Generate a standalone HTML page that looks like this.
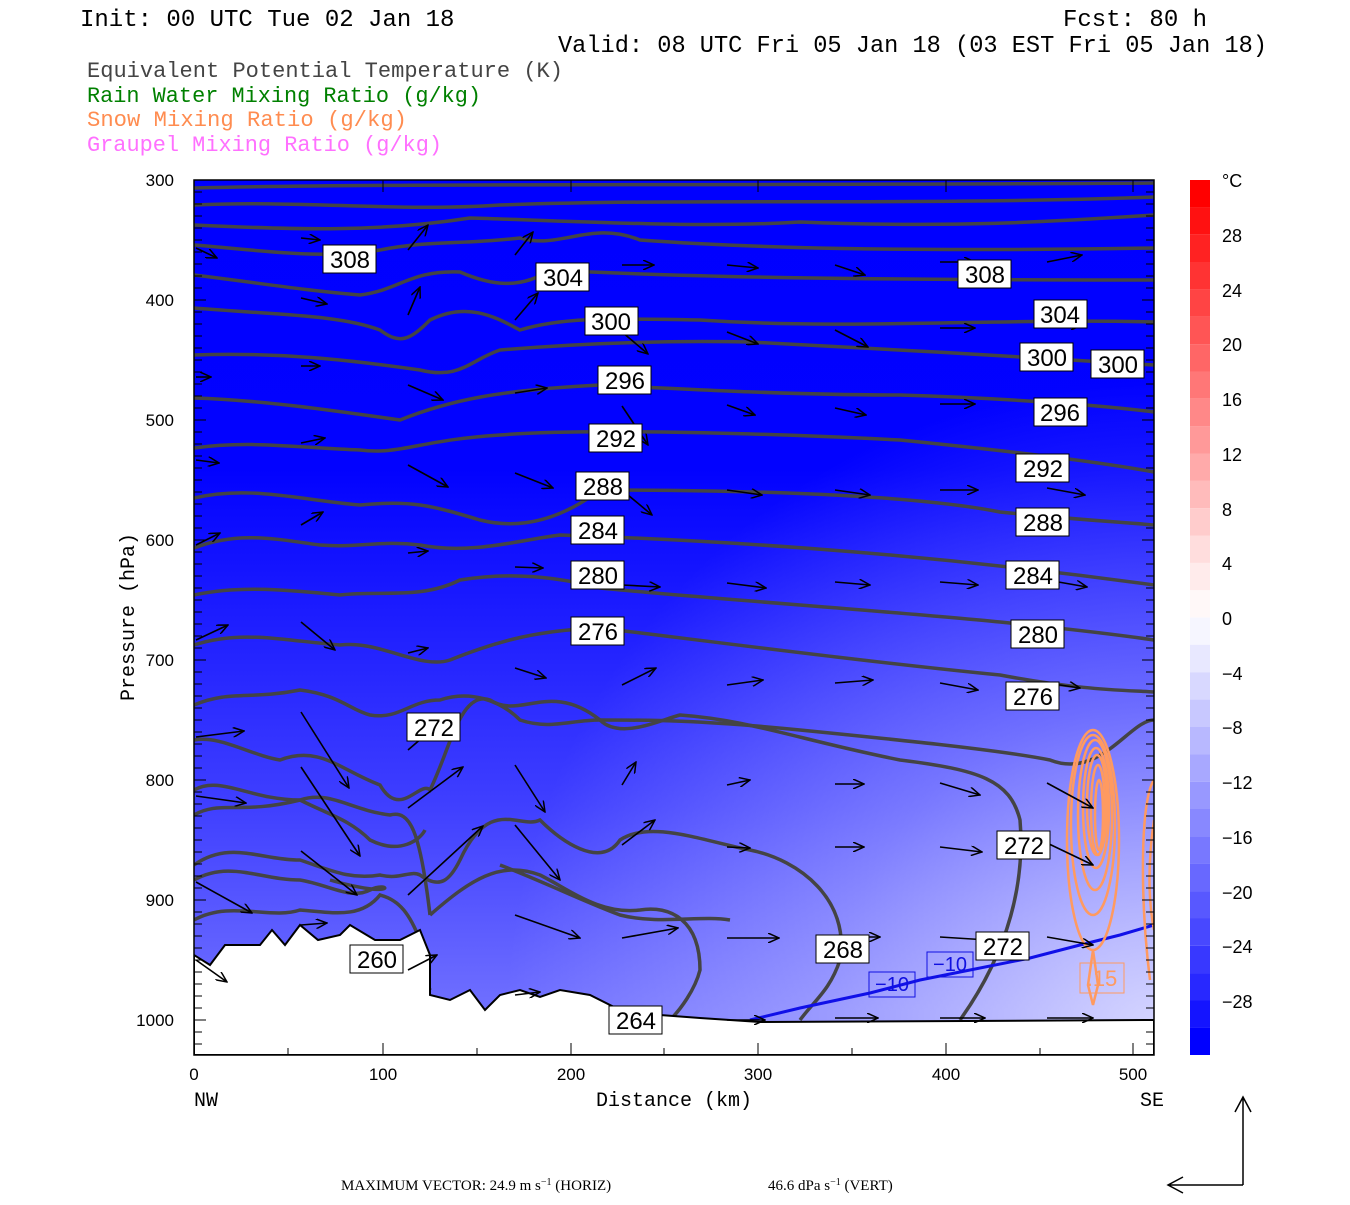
<!DOCTYPE html>
<html><head><meta charset="utf-8"><style>
body{margin:0;background:#fff;}
svg text{font-family:"Liberation Sans",sans-serif;}
svg .t, svg .t text{font-family:"Liberation Mono",monospace;font-size:24px;}
svg .lg, svg .lg text{font-family:"Liberation Mono",monospace;font-size:22px;}
svg .sf, svg .sf text{font-family:"Liberation Serif",serif;}
</style></head><body>
<svg width="1350" height="1200" viewBox="0 0 1350 1200" xmlns="http://www.w3.org/2000/svg">
<defs>
<linearGradient id="bg" x1="0" y1="180" x2="0" y2="1055" gradientUnits="userSpaceOnUse">
<stop offset="0" stop-color="#0000ff"/><stop offset="0.33" stop-color="#0202ff"/>
<stop offset="0.52" stop-color="#2020ff"/><stop offset="0.72" stop-color="#4040ff"/>
<stop offset="0.95" stop-color="#7070ff"/></linearGradient>
<radialGradient id="rg" cx="1154" cy="1030" r="650" gradientUnits="userSpaceOnUse">
<stop offset="0" stop-color="#ffffff" stop-opacity="0.7"/><stop offset="0.5" stop-color="#ffffff" stop-opacity="0.3"/><stop offset="1" stop-color="#ffffff" stop-opacity="0"/></radialGradient>
<marker id="ah" markerWidth="12" markerHeight="10" refX="11" refY="5" orient="auto" markerUnits="userSpaceOnUse"><path d="M0,0 L11,5 L0,10" fill="none" stroke="#000" stroke-width="1.5"/></marker>
<clipPath id="cp"><rect x="194" y="180" width="960" height="875"/></clipPath>
</defs>
<g class="t" fill="#000">
<text x="80" y="26">Init: 00 UTC Tue 02 Jan 18</text>
<text x="1063" y="26">Fcst:  80 h</text>
<text x="558" y="52" textLength="709" lengthAdjust="spacingAndGlyphs">Valid: 08 UTC Fri 05 Jan 18 (03 EST Fri 05 Jan 18)</text>
</g>
<g class="lg">
<text x="87" y="77" fill="#444" textLength="476" lengthAdjust="spacingAndGlyphs">Equivalent Potential Temperature (K)</text>
<text x="87" y="102" fill="#008000" textLength="394" lengthAdjust="spacingAndGlyphs">Rain Water Mixing Ratio (g/kg)</text>
<text x="87" y="126" fill="#ff8c50" textLength="320" lengthAdjust="spacingAndGlyphs">Snow Mixing Ratio (g/kg)</text>
<text x="87" y="151" fill="#ff70ff" textLength="355" lengthAdjust="spacingAndGlyphs">Graupel Mixing Ratio (g/kg)</text>
</g>
<g clip-path="url(#cp)">
<rect x="194" y="180" width="960" height="875" fill="url(#bg)"/>
<rect x="194" y="380" width="960" height="675" fill="url(#rg)"/>
<g fill="none" stroke="#444" stroke-width="3.5">
<path d="M194,188 C400,183 700,186 1154,183"/>
<path d="M194,205 C300,200 400,212 500,205 C700,198 900,206 1154,197"/>
<path d="M194,225 C300,230 380,232 470,218 C600,222 700,228 800,222 C950,228 1050,222 1154,215"/>
<path d="M194,245 C260,250 320,260 380,250 C430,240 460,245 520,238 C560,250 590,220 640,240 C750,248 900,252 1154,248"/>
<path d="M194,275 C260,283 300,290 360,295 C400,290 410,270 460,272 C490,285 520,290 550,270 C700,278 900,280 1154,280"/>
<path d="M194,308 C280,315 340,315 380,330 C400,345 410,340 430,320 C470,300 500,320 520,330 C560,318 600,318 700,320 C850,330 1000,318 1154,322"/>
<path d="M194,355 C280,352 350,360 420,370 C460,380 470,360 500,350 C560,345 650,340 750,342 C900,350 1000,355 1154,365"/>
<path d="M194,398 C260,400 330,410 400,420 C450,400 500,390 600,385 C700,390 800,395 900,395 C1000,398 1100,405 1154,412"/>
<path d="M194,448 C250,440 300,448 360,450 C400,455 420,440 500,435 C560,430 700,430 900,440 C1000,450 1100,462 1154,472"/>
<path d="M194,498 C250,485 300,500 360,505 C410,500 430,505 480,520 C520,530 560,520 600,490 C700,490 900,492 1000,512 C1080,520 1120,522 1154,525"/>
<path d="M194,548 C240,530 280,540 320,545 C360,548 380,540 420,545 C470,555 520,540 560,535 C700,540 900,550 1154,585"/>
<path d="M194,595 C240,585 290,590 340,595 C380,590 420,600 460,580 C520,570 570,580 600,588 C700,598 900,612 1000,622 C1080,630 1120,635 1154,640"/>
<path d="M194,645 C240,630 280,640 340,645 C380,640 420,670 450,660 C500,640 540,630 600,628 C700,640 850,660 1000,675 C1080,690 1120,690 1154,692"/>
<path d="M194,705 C230,690 250,700 300,690 C340,695 350,710 370,715 C400,720 410,700 440,700 C470,690 500,700 520,720 C550,730 570,720 600,720 C650,720 700,720 800,730 C900,740 1000,750 1050,760 C1100,780 1130,720 1154,720"/>
<path d="M194,740 C220,735 250,755 280,760 C320,745 340,770 380,785 C400,820 420,780 430,790 C450,750 460,690 490,700 C520,720 550,680 600,720 C620,740 660,720 680,715 C750,720 800,740 900,760 C980,770 1010,780 1020,820 C1025,880 1010,950 960,1020"/>
<path d="M194,790 C220,775 250,800 300,800 C330,790 350,810 390,815 C410,810 420,830 430,915"/>
<path d="M194,815 C220,800 240,815 300,800 M300,800 C330,815 350,820 370,840 C400,855 420,840 425,830"/>
<path d="M194,865 C230,840 260,860 300,860 C330,870 350,880 380,875 C400,880 410,870 420,875 C440,890 450,880 460,860 C490,795 520,830 540,820 C560,840 600,870 620,840 C650,820 700,840 750,850 C800,860 850,900 840,960 C830,990 815,1000 800,1020"/>
<path d="M194,880 C230,860 260,880 300,880 C330,885 350,900 370,890 C390,880 400,900 330,880"/>
<path d="M194,920 C230,900 270,920 300,910 C330,912 360,920 380,895 C400,900 410,915 420,940"/>
<path d="M340,935 C400,940 420,960 430,990"/>
<path d="M430,915 C470,880 500,860 540,875 C570,890 600,915 640,910 C670,905 700,920 700,970 C695,990 680,1010 670,1020"/>
<path d="M500,865 C540,880 580,900 620,915 C660,925 700,915 730,920"/>
</g>
<path d="M750,1020 L800,1008 L870,993 L920,980 L960,972 L1030,958 L1080,945 L1120,935 L1154,925" fill="none" stroke="#1010e8" stroke-width="3"/>
<g fill="none" stroke="#ff9a60" stroke-width="2.5">
<ellipse cx="1093" cy="840" rx="26" ry="110"/>
<ellipse cx="1093" cy="825" rx="22" ry="90"/>
<ellipse cx="1095" cy="815" rx="17" ry="75"/>
<ellipse cx="1096" cy="808" rx="13" ry="60"/>
<ellipse cx="1097" cy="805" rx="10" ry="50"/>
<ellipse cx="1098" cy="810" rx="7" ry="45"/>
<ellipse cx="1099" cy="815" rx="4" ry="35"/>
<path d="M1093,950 L1088,985 L1093,1005 L1098,985 Z"/>
<path d="M1154,780 C1140,800 1140,900 1150,980"/>
<path d="M1154,820 C1148,860 1148,900 1154,930"/>
</g>
<path d="M194,1055 L194,955 L210,965 L225,945 L260,945 L272,930 L285,945 L300,925 L318,940 L340,935 L350,925 L375,940 L400,940 L420,930 L430,955 L430,995 L450,1000 L470,990 L485,1010 L500,995 L520,990 L540,997 L560,990 L590,995 L620,1010 L660,1015 L700,1018 L760,1022 L1154,1020 L1154,1055 Z" fill="#fff" stroke="#000" stroke-width="2"/>
<g stroke="#000" stroke-width="1.6" fill="none" marker-end="url(#ah)">
<path d="M196,248 L217,258"/><path d="M301,238 L320,240"/><path d="M408,250 L428,225"/><path d="M515,255 L533,232"/><path d="M622,265 L654,265"/><path d="M727,265 L758,268"/><path d="M835,265 L865,275"/><path d="M940,262 L975,262"/><path d="M1047,262 L1082,255"/>
<path d="M301,298 L327,304"/><path d="M408,315 L420,287"/><path d="M515,320 L538,293"/><path d="M622,332 L648,354"/><path d="M727,332 L758,344"/><path d="M835,330 L868,347"/><path d="M940,328 L975,328"/><path d="M1047,325 L1082,325"/>
<path d="M196,377 L211,377"/><path d="M301,366 L320,366"/><path d="M408,385 L443,400"/><path d="M515,393 L547,388"/><path d="M622,406 L648,445"/><path d="M727,405 L755,415"/><path d="M835,408 L866,415"/><path d="M940,404 L975,404"/><path d="M1047,404 L1082,404"/>
<path d="M196,460 L219,463"/><path d="M301,443 L325,438"/><path d="M408,465 L448,487"/><path d="M515,473 L553,488"/><path d="M622,490 L652,515"/><path d="M727,490 L762,495"/><path d="M835,490 L870,495"/><path d="M940,490 L978,490"/><path d="M1047,488 L1085,495"/>
<path d="M196,545 L220,533"/><path d="M301,525 L323,512"/><path d="M408,553 L428,551"/><path d="M515,567 L543,568"/><path d="M622,585 L660,587"/><path d="M727,583 L766,588"/><path d="M835,582 L870,585"/><path d="M940,582 L978,585"/><path d="M1047,580 L1087,587"/>
<path d="M196,640 L228,625"/><path d="M301,622 L335,650"/><path d="M408,653 L428,648"/><path d="M515,668 L546,678"/><path d="M622,685 L656,668"/><path d="M727,685 L763,680"/><path d="M835,683 L873,680"/><path d="M940,683 L978,690"/><path d="M1047,683 L1080,688"/>
<path d="M196,737 L244,731"/><path d="M301,712 L349,788"/><path d="M408,750 L437,725"/><path d="M515,765 L545,812"/><path d="M622,785 L636,762"/><path d="M727,785 L750,780"/><path d="M835,784 L864,784"/><path d="M940,783 L980,795"/><path d="M1047,783 L1093,808"/>
<path d="M196,796 L246,803"/><path d="M301,767 L360,856"/><path d="M408,808 L463,767"/><path d="M515,825 L560,880"/><path d="M622,845 L655,820"/><path d="M727,847 L750,848"/><path d="M835,847 L864,847"/><path d="M940,847 L982,852"/><path d="M1047,843 L1093,865"/>
<path d="M196,882 L252,913"/><path d="M301,851 L357,895"/><path d="M408,895 L483,826"/><path d="M515,915 L580,938"/><path d="M622,938 L678,928"/><path d="M727,938 L779,938"/><path d="M835,937 L880,937"/><path d="M940,937 L988,940"/><path d="M1047,937 L1093,945"/>
<path d="M196,960 L227,982"/><path d="M301,925 L327,923"/><path d="M408,970 L437,955"/><path d="M515,995 L540,992"/><path d="M727,1020 L765,1020"/><path d="M835,1018 L878,1018"/><path d="M940,1018 L985,1018"/><path d="M1047,1018 L1093,1018"/>
</g>
<g font-size="24" text-anchor="middle" fill="#000">
<g fill="#fff" stroke="#000" stroke-width="1">
<rect x="323" y="245" width="53" height="28"/><rect x="536" y="263" width="53" height="28"/><rect x="958" y="260" width="53" height="28"/>
<rect x="1034" y="300" width="53" height="28"/><rect x="585" y="307" width="53" height="28"/><rect x="1020" y="343" width="53" height="28"/><rect x="1091" y="350" width="53" height="28"/>
<rect x="598" y="366" width="53" height="28"/><rect x="1034" y="398" width="53" height="28"/><rect x="589" y="424" width="53" height="28"/><rect x="1016" y="454" width="53" height="28"/>
<rect x="576" y="472" width="53" height="28"/><rect x="1016" y="508" width="53" height="28"/><rect x="571" y="516" width="53" height="28"/><rect x="1006" y="561" width="53" height="28"/>
<rect x="571" y="561" width="53" height="28"/><rect x="1011" y="620" width="53" height="28"/><rect x="571" y="617" width="53" height="28"/><rect x="1006" y="682" width="53" height="28"/>
<rect x="407" y="713" width="53" height="28"/><rect x="997" y="831" width="53" height="28"/><rect x="976" y="932" width="53" height="28"/><rect x="816" y="935" width="53" height="28"/>
<rect x="350" y="945" width="53" height="28"/><rect x="609" y="1006" width="53" height="28"/>
</g>
<text x="350" y="268">308</text><text x="563" y="286">304</text><text x="985" y="283">308</text>
<text x="1060" y="323">304</text><text x="611" y="330">300</text><text x="1047" y="366">300</text><text x="1118" y="373">300</text>
<text x="625" y="389">296</text><text x="1060" y="421">296</text><text x="616" y="447">292</text><text x="1043" y="477">292</text>
<text x="603" y="495">288</text><text x="1043" y="531">288</text><text x="598" y="539">284</text><text x="1033" y="584">284</text>
<text x="598" y="584">280</text><text x="1038" y="643">280</text><text x="598" y="640">276</text><text x="1033" y="705">276</text>
<text x="434" y="736">272</text><text x="1024" y="854">272</text><text x="1003" y="955">272</text><text x="843" y="958">268</text>
<text x="377" y="968">260</text><text x="636" y="1029">264</text>
</g>
<g font-size="20" fill="#1010e0" text-anchor="middle">
<rect x="869" y="972" width="46" height="25" fill="none" stroke="#1010e0"/><text x="892" y="991">−10</text>
<rect x="927" y="952" width="46" height="25" fill="none" stroke="#1010e0"/><text x="950" y="971">−10</text>
</g>
<rect x="1080" y="963" width="44" height="30" fill="none" stroke="#ff9a60"/><text x="1102" y="986" font-size="22" fill="#ff9a60" text-anchor="middle">.15</text>
</g>
<rect x="194" y="180" width="960" height="875" fill="none" stroke="#000" stroke-width="1.5"/>
<g stroke="#000" stroke-width="1">
<path d="M194,192h8M194,204h8M194,216h8M194,228h8M194,240h8M194,252h8M194,264h8M194,276h8M194,288h8M194,300h12M194,312h8M194,324h8M194,336h8M194,348h8M194,360h8M194,372h8M194,384h8M194,396h8M194,408h8M194,420h12M194,432h8M194,444h8M194,456h8M194,468h8M194,480h8M194,492h8M194,504h8M194,516h8M194,528h8M194,540h12M194,552h8M194,564h8M194,576h8M194,588h8M194,600h8M194,612h8M194,624h8M194,636h8M194,648h8M194,660h12M194,672h8M194,684h8M194,696h8M194,708h8M194,720h8M194,732h8M194,744h8M194,756h8M194,768h8M194,780h12M194,792h8M194,804h8M194,816h8M194,828h8M194,840h8M194,852h8M194,864h8M194,876h8M194,888h8M194,900h12M194,912h8M194,924h8M194,936h8M194,948h8M194,960h8M194,972h8M194,984h8M194,996h8M194,1008h8M194,1020h12M194,1032h8M194,1044h8"/>
<path d="M1154,192h-8M1154,204h-8M1154,216h-8M1154,228h-8M1154,240h-8M1154,252h-8M1154,264h-8M1154,276h-8M1154,288h-8M1154,300h-12M1154,312h-8M1154,324h-8M1154,336h-8M1154,348h-8M1154,360h-8M1154,372h-8M1154,384h-8M1154,396h-8M1154,408h-8M1154,420h-12M1154,432h-8M1154,444h-8M1154,456h-8M1154,468h-8M1154,480h-8M1154,492h-8M1154,504h-8M1154,516h-8M1154,528h-8M1154,540h-12M1154,552h-8M1154,564h-8M1154,576h-8M1154,588h-8M1154,600h-8M1154,612h-8M1154,624h-8M1154,636h-8M1154,648h-8M1154,660h-12M1154,672h-8M1154,684h-8M1154,696h-8M1154,708h-8M1154,720h-8M1154,732h-8M1154,744h-8M1154,756h-8M1154,768h-8M1154,780h-12M1154,792h-8M1154,804h-8M1154,816h-8M1154,828h-8M1154,840h-8M1154,852h-8M1154,864h-8M1154,876h-8M1154,888h-8M1154,900h-12M1154,912h-8M1154,924h-8M1154,936h-8M1154,948h-8M1154,960h-8M1154,972h-8M1154,984h-8M1154,996h-8M1154,1008h-8M1154,1020h-12M1154,1032h-8M1154,1044h-8"/>
<path d="M383,1055v-12M571,1055v-12M758,1055v-12M946,1055v-12M1133,1055v-12M288,1055v-7M477,1055v-7M664,1055v-7M852,1055v-7M1040,1055v-7"/>
<path d="M383,180v12M571,180v12M758,180v12M946,180v12M1133,180v12"/>
</g>
<g font-size="17" text-anchor="end" fill="#000">
<text x="174" y="186">300</text><text x="174" y="306">400</text><text x="174" y="426">500</text><text x="174" y="546">600</text>
<text x="174" y="666">700</text><text x="174" y="786">800</text><text x="174" y="906">900</text><text x="174" y="1026">1000</text>
</g>
<g font-size="17" text-anchor="middle" fill="#000">
<text x="194" y="1080">0</text><text x="383" y="1080">100</text><text x="571" y="1080">200</text><text x="758" y="1080">300</text><text x="946" y="1080">400</text><text x="1133" y="1080">500</text>
</g>
<g class="t" style="font-size:20px">
<text x="194" y="1106" style="font-size:20px">NW</text><text x="1140" y="1106" style="font-size:20px">SE</text>
<text x="674" y="1106" style="font-size:20px" text-anchor="middle">Distance (km)</text>
<text transform="translate(134,617) rotate(-90)" style="font-size:20px" text-anchor="middle">Pressure (hPa)</text>
</g>
<g>
<rect x="1190" y="180.0" width="20" height="27.4" fill="rgb(255,0,0)"/><rect x="1190" y="207.3" width="20" height="27.4" fill="rgb(255,17,17)"/><rect x="1190" y="234.7" width="20" height="27.4" fill="rgb(255,34,34)"/><rect x="1190" y="262.0" width="20" height="27.4" fill="rgb(255,51,51)"/><rect x="1190" y="289.4" width="20" height="27.4" fill="rgb(255,68,68)"/><rect x="1190" y="316.7" width="20" height="27.4" fill="rgb(255,85,85)"/><rect x="1190" y="344.1" width="20" height="27.4" fill="rgb(255,102,102)"/><rect x="1190" y="371.4" width="20" height="27.4" fill="rgb(255,119,119)"/><rect x="1190" y="398.8" width="20" height="27.4" fill="rgb(255,136,136)"/><rect x="1190" y="426.1" width="20" height="27.4" fill="rgb(255,153,153)"/><rect x="1190" y="453.5" width="20" height="27.4" fill="rgb(255,170,170)"/><rect x="1190" y="480.8" width="20" height="27.4" fill="rgb(255,187,187)"/><rect x="1190" y="508.2" width="20" height="27.4" fill="rgb(255,204,204)"/><rect x="1190" y="535.5" width="20" height="27.4" fill="rgb(255,221,221)"/><rect x="1190" y="562.9" width="20" height="27.4" fill="rgb(255,235,235)"/><rect x="1190" y="590.2" width="20" height="27.4" fill="rgb(255,248,248)"/>
<rect x="1190" y="617.6" width="20" height="27.4" fill="rgb(246,246,255)"/><rect x="1190" y="644.9" width="20" height="27.4" fill="rgb(232,232,255)"/><rect x="1190" y="672.3" width="20" height="27.4" fill="rgb(216,216,255)"/><rect x="1190" y="699.6" width="20" height="27.4" fill="rgb(200,200,255)"/><rect x="1190" y="727.0" width="20" height="27.4" fill="rgb(184,184,255)"/><rect x="1190" y="754.3" width="20" height="27.4" fill="rgb(168,168,255)"/><rect x="1190" y="781.7" width="20" height="27.4" fill="rgb(152,152,255)"/><rect x="1190" y="809.0" width="20" height="27.4" fill="rgb(136,136,255)"/><rect x="1190" y="836.4" width="20" height="27.4" fill="rgb(120,120,255)"/><rect x="1190" y="863.7" width="20" height="27.4" fill="rgb(104,104,255)"/><rect x="1190" y="891.1" width="20" height="27.4" fill="rgb(88,88,255)"/><rect x="1190" y="918.4" width="20" height="27.4" fill="rgb(72,72,255)"/><rect x="1190" y="945.8" width="20" height="27.4" fill="rgb(56,56,255)"/><rect x="1190" y="973.1" width="20" height="27.4" fill="rgb(40,40,255)"/><rect x="1190" y="1000.5" width="20" height="27.4" fill="rgb(20,20,255)"/><rect x="1190" y="1027.8" width="20" height="27.2" fill="rgb(0,0,255)"/>
</g>
<g font-size="18" fill="#000">
<text x="1222" y="187">°C</text><text x="1222" y="242">28</text><text x="1222" y="297">24</text><text x="1222" y="351">20</text><text x="1222" y="406">16</text><text x="1222" y="461">12</text><text x="1222" y="516">8</text><text x="1222" y="570">4</text><text x="1222" y="625">0</text>
<text x="1222" y="680">−4</text><text x="1222" y="734">−8</text><text x="1222" y="789">−12</text><text x="1222" y="844">−16</text><text x="1222" y="899">−20</text><text x="1222" y="953">−24</text><text x="1222" y="1008">−28</text>
</g>
<g stroke="#000" stroke-width="1.5" fill="none">
<path d="M1243,1185 V1097 M1235,1112 L1243,1097 L1251,1112"/>
<path d="M1243,1185 H1168 M1183,1177 L1168,1185 L1183,1193"/>
</g>
<g class="sf">
<text x="341" y="1190" style="font-size:15px">MAXIMUM VECTOR:  24.9 m s<tspan dy="-5" style="font-size:10px">−1</tspan><tspan dy="5"> (HORIZ)</tspan></text>
<text x="768" y="1190" style="font-size:15px">46.6 dPa s<tspan dy="-5" style="font-size:10px">−1</tspan><tspan dy="5"> (VERT)</tspan></text>
</g>
</svg>
</body></html>
